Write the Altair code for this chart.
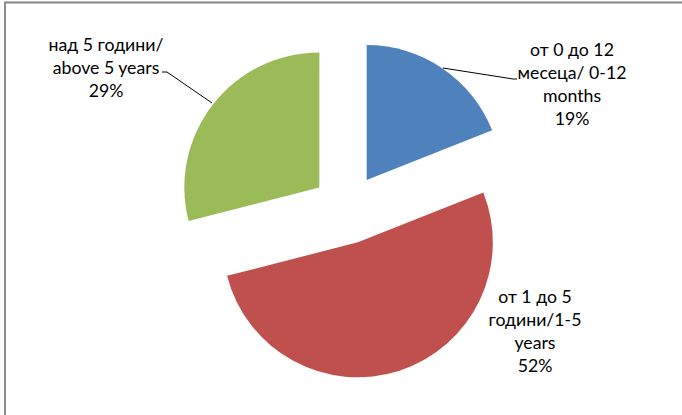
import math
import altair as alt
import pandas as pd

# ---- data ----
categories = [
    "от 0 до 12|месеца/ 0-12|months",
    "от 1 до 5|години/1-5|years",
    "над 5 години/|above 5 years",
]
values = [19, 52, 29]
colors = ["#4F81BD", "#C0504D", "#9BBB59"]

# ---- layout (pixels) ----
CX, CY, R, EXPLODE = 347, 209, 135, 35
label_x = [572, 535, 106]
label_y = [51, 298, 46]

df = pd.DataFrame({
    "order": list(range(len(values))),
    "name": categories,
    "value": values,
    "color": colors,
    "lx": label_x,
    "ly": label_y,
})

leader_x = [443, 513, 162, 167]
leader_y = [68, 79, 72, 72]
leader_x2 = [513, 517, 167, 212]
leader_y2 = [79, 79, 72, 103]
leaders = pd.DataFrame({"x": leader_x, "y": leader_y, "x2": leader_x2, "y2": leader_y2})

base = (
    alt.Chart(df)
    .transform_joinaggregate(total="sum(value)")
    .transform_window(cum="sum(value)", sort=[alt.SortField("order")], frame=[None, 0])
    .transform_calculate(
        frac_end="datum.cum / datum.total",
        frac_start="(datum.cum - datum.value) / datum.total",
    )
    .transform_calculate(
        mid="(datum.frac_start + datum.frac_end) / 2",
        pct="datum.value / datum.total",
    )
    .transform_calculate(
        px=f"{CX} + {EXPLODE} * sin(2 * PI * datum.mid)",
        py=f"{CY} - {EXPLODE} * cos(2 * PI * datum.mid)",
        label="datum.name + '|' + format(datum.pct, '.0%')",
    )
)

arcs = base.mark_arc(outerRadius=R).encode(
    x=alt.X("px:Q", scale=None, axis=None),
    y=alt.Y("py:Q", scale=None, axis=None),
    theta=alt.Theta("frac_start:Q", scale=alt.Scale(domain=[0, 1], range=[0, 2 * math.pi])),
    theta2="frac_end:Q",
    color=alt.Color("color:N", scale=None),
)

labels = base.mark_text(
    lineBreak="|", font="Lato", fontSize=17.7, lineHeight=23,
    align="center", baseline="middle", color="black",
).encode(
    x=alt.X("lx:Q", scale=None, axis=None),
    y=alt.Y("ly:Q", scale=None, axis=None),
    text="label:N",
)

lines = alt.Chart(leaders).mark_rule(color="black", strokeWidth=1).encode(
    x=alt.X("x:Q", scale=None, axis=None),
    y=alt.Y("y:Q", scale=None, axis=None),
    x2="x2:Q",
    y2="y2:Q",
)

frame = alt.Chart(df).mark_rect(filled=False, stroke="#8a8a8a", strokeWidth=1.5).encode(
    x=alt.value(5), x2=alt.value(720), y=alt.value(2.5), y2=alt.value(450)
)

chart = (
    alt.layer(frame, arcs, lines, labels)
    .properties(width=682, height=415, padding=0, autosize="none", background="white")
    .configure_view(stroke=None)
)

chart.save("out.html", embed_options={"renderer": "svg", "actions": False})
